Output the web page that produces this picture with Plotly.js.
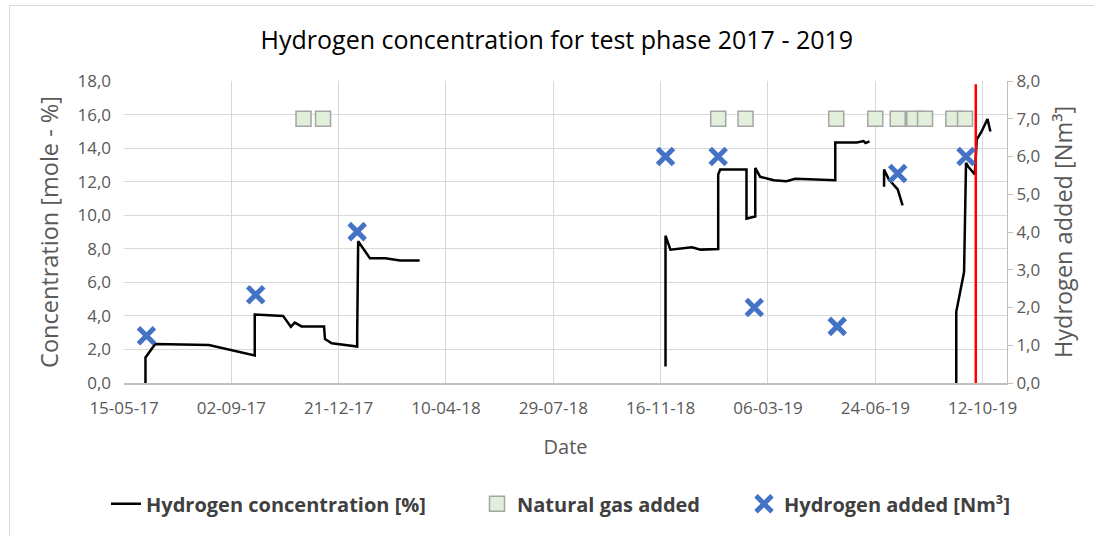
<!DOCTYPE html>
<html>
<head>
<meta charset="utf-8">
<script src="https://cdn.plot.ly/plotly-3.0.1.min.js"></script>
<style>
  html, body { margin: 0; padding: 0; background: #fff; }
  #wrap { position: relative; width: 1094px; height: 536px; }
  #chart { width: 1094px; height: 536px; }
  #frame { position: absolute; left: 9px; top: 5px; width: 1085px; height: 531px;
           border-left: 1px solid #D9D9D9; border-top: 1px solid #D9D9D9; pointer-events: none; }
</style>
</head>
<body>
<div id="wrap">
  <div id="chart"></div>
  <div id="frame"></div>
</div>
<script>
// Hydrogen concentration [%] (left axis); null breaks the line between measurement periods
const concDates = [
  '2017-06-06','2017-06-06','2017-06-16','2017-08-10','2017-09-26','2017-09-26','2017-10-25',
  '2017-11-02','2017-11-06','2017-11-13','2017-12-06','2017-12-07','2017-12-14','2018-01-09',
  '2018-01-09','2018-01-10','2018-01-22','2018-02-07','2018-02-22','2018-03-14',
  '2018-06-01',
  '2018-11-21','2018-11-21','2018-11-26','2018-12-18','2018-12-27','2019-01-14','2019-01-14',
  '2019-01-16','2019-02-12','2019-02-12','2019-02-21','2019-02-21','2019-02-26','2019-03-12',
  '2019-03-25','2019-04-03','2019-05-14','2019-05-14','2019-06-05','2019-06-12','2019-06-14',
  '2019-06-18',
  '2019-06-28',
  '2019-07-03','2019-07-03','2019-07-08','2019-07-17','2019-07-22',
  '2019-08-20',
  '2019-09-15','2019-09-15','2019-09-23','2019-09-25','2019-09-27','2019-10-01','2019-10-04',
  '2019-10-06','2019-10-11','2019-10-17','2019-10-20'
];
const concValues = [
  0.0, 1.52, 2.33, 2.27, 1.64, 4.08, 4.0,
  3.35, 3.6, 3.37, 3.37, 2.62, 2.37, 2.17,
  2.86, 8.45, 7.44, 7.44, 7.3, 7.3,
  null,
  0.99, 8.78, 7.95, 8.09, 7.95, 7.99, 12.43,
  12.72, 12.72, 9.8, 9.92, 12.82, 12.29, 12.09,
  12.03, 12.17, 12.09, 14.34, 14.34, 14.42, 14.3,
  14.4,
  null,
  11.7, 12.72, 12.13, 11.54, 10.59,
  null,
  0.0, 4.24, 6.61, 13.12, 12.92, 12.62, 12.43,
  14.5, 14.99, 15.74, 14.99
];

// Natural gas added (marker at 7.0 on right axis)
const gasDates = ['2017-11-15','2017-12-05','2019-01-14','2019-02-11','2019-05-15','2019-06-24',
                  '2019-07-17','2019-08-03','2019-08-14','2019-09-12','2019-09-24'];
const gasValues = [7, 7, 7, 7, 7, 7, 7, 7, 7, 7, 7];

// Hydrogen added [Nm³] (right axis)
const h2Dates = ['2017-06-07','2017-09-27','2018-01-09','2018-11-21','2019-01-14','2019-02-20',
                 '2019-05-16','2019-07-17','2019-09-25'];
const h2Values = [1.25, 2.34, 4.01, 6.0, 6.0, 2.0, 1.5, 5.55, 6.0];

// Red marker line (end of test phase)
const markerDates = ['2019-10-05','2019-10-05'];
const markerValues = [0, 17.8];

const xTicks = ['2017-05-15','2017-09-02','2017-12-21','2018-04-10','2018-07-29',
                '2018-11-16','2019-03-06','2019-06-24','2019-10-12'];

const FONT = 'Open Sans, sans-serif';
const GREY = '#595959';
const LEGFONT = { family: FONT, size: 20, color: '#404040', weight: 'bold' };

const traces = [
  { x: concDates, y: concValues, type: 'scatter', mode: 'lines', name: 'Hydrogen concentration [%]',
    line: { color: '#000000', width: 2.5 }, connectgaps: false, yaxis: 'y', legend: 'legend' },
  { x: gasDates, y: gasValues, type: 'scatter', mode: 'markers', name: 'Natural gas added',
    marker: { symbol: 'square', size: 15, color: '#E2EFDA', line: { color: '#A5A5A5', width: 1.5 } },
    yaxis: 'y2', legend: 'legend2' },
  { x: h2Dates, y: h2Values, type: 'scatter', mode: 'markers', name: 'Hydrogen added [Nm³]',
    marker: { symbol: 'x-thin', size: 16, color: '#4472C4', line: { color: '#4472C4', width: 5 } },
    yaxis: 'y2', legend: 'legend3' },
  { x: markerDates, y: markerValues, type: 'scatter', mode: 'lines', showlegend: false,
    line: { color: '#FF0000', width: 2.5 }, yaxis: 'y', hoverinfo: 'skip' }
];

// plot area spans pixels 124..1007 horizontally
const px = p => (p - 124) / 883;

const layout = {
  width: 1094, height: 536,
  margin: { l: 124, r: 87, t: 81, b: 151 },
  paper_bgcolor: '#ffffff', plot_bgcolor: '#ffffff',
  separators: ',.',
  font: { family: FONT, color: GREY, size: 16 },
  title: { text: 'Hydrogen concentration for test phase 2017 - 2019',
           font: { family: FONT, size: 25, color: '#000000' },
           x: 0.509, xanchor: 'center', y: 0.925, yanchor: 'middle' },
  xaxis: {
    type: 'date', range: ['2017-05-15', '2019-11-06'],
    tickmode: 'array', tickvals: xTicks, tickformat: '%d-%m-%y',
    showgrid: true, gridcolor: '#D9D9D9', gridwidth: 1,
    showline: true, linecolor: '#BFBFBF', linewidth: 1.5,
    ticks: '', ticklabelstandoff: 9, tickfont: { family: FONT, size: 17, color: GREY },
    title: { text: 'Date', font: { family: FONT, size: 20, color: GREY }, standoff: 22 },
    zeroline: false
  },
  yaxis: {
    range: [0, 18], dtick: 2, tickformat: '.1f',
    showgrid: true, gridcolor: '#D9D9D9', gridwidth: 1,
    showline: false, zeroline: false, ticks: '', ticklabelstandoff: 12,
    tickfont: { family: FONT, size: 17, color: GREY },
    title: { text: 'Concentration [mole - %]', font: { family: FONT, size: 23.5, color: GREY }, standoff: 12 }
  },
  yaxis2: {
    overlaying: 'y', side: 'right', range: [0, 8], dtick: 1, tickformat: '.1f',
    showgrid: false, zeroline: false,
    showline: true, linecolor: '#BFBFBF', linewidth: 1,
    ticks: 'outside', ticklen: 5, tickcolor: '#BFBFBF',
    tickfont: { family: FONT, size: 17, color: GREY },
    title: { text: 'Hydrogen added [Nm³]', font: { family: FONT, size: 23.5, color: GREY }, standoff: 16 }
  },
  showlegend: true,
  legend:  { orientation: 'h', x: px(106), xanchor: 'left', y: -0.40, yanchor: 'middle', font: LEGFONT },
  legend2: { orientation: 'h', x: px(477), xanchor: 'left', y: -0.40, yanchor: 'middle', font: LEGFONT },
  legend3: { orientation: 'h', x: px(744), xanchor: 'left', y: -0.40, yanchor: 'middle', font: LEGFONT }
};

Plotly.newPlot('chart', traces, layout, { displayModeBar: false, staticPlot: true });
</script>
</body>
</html>
